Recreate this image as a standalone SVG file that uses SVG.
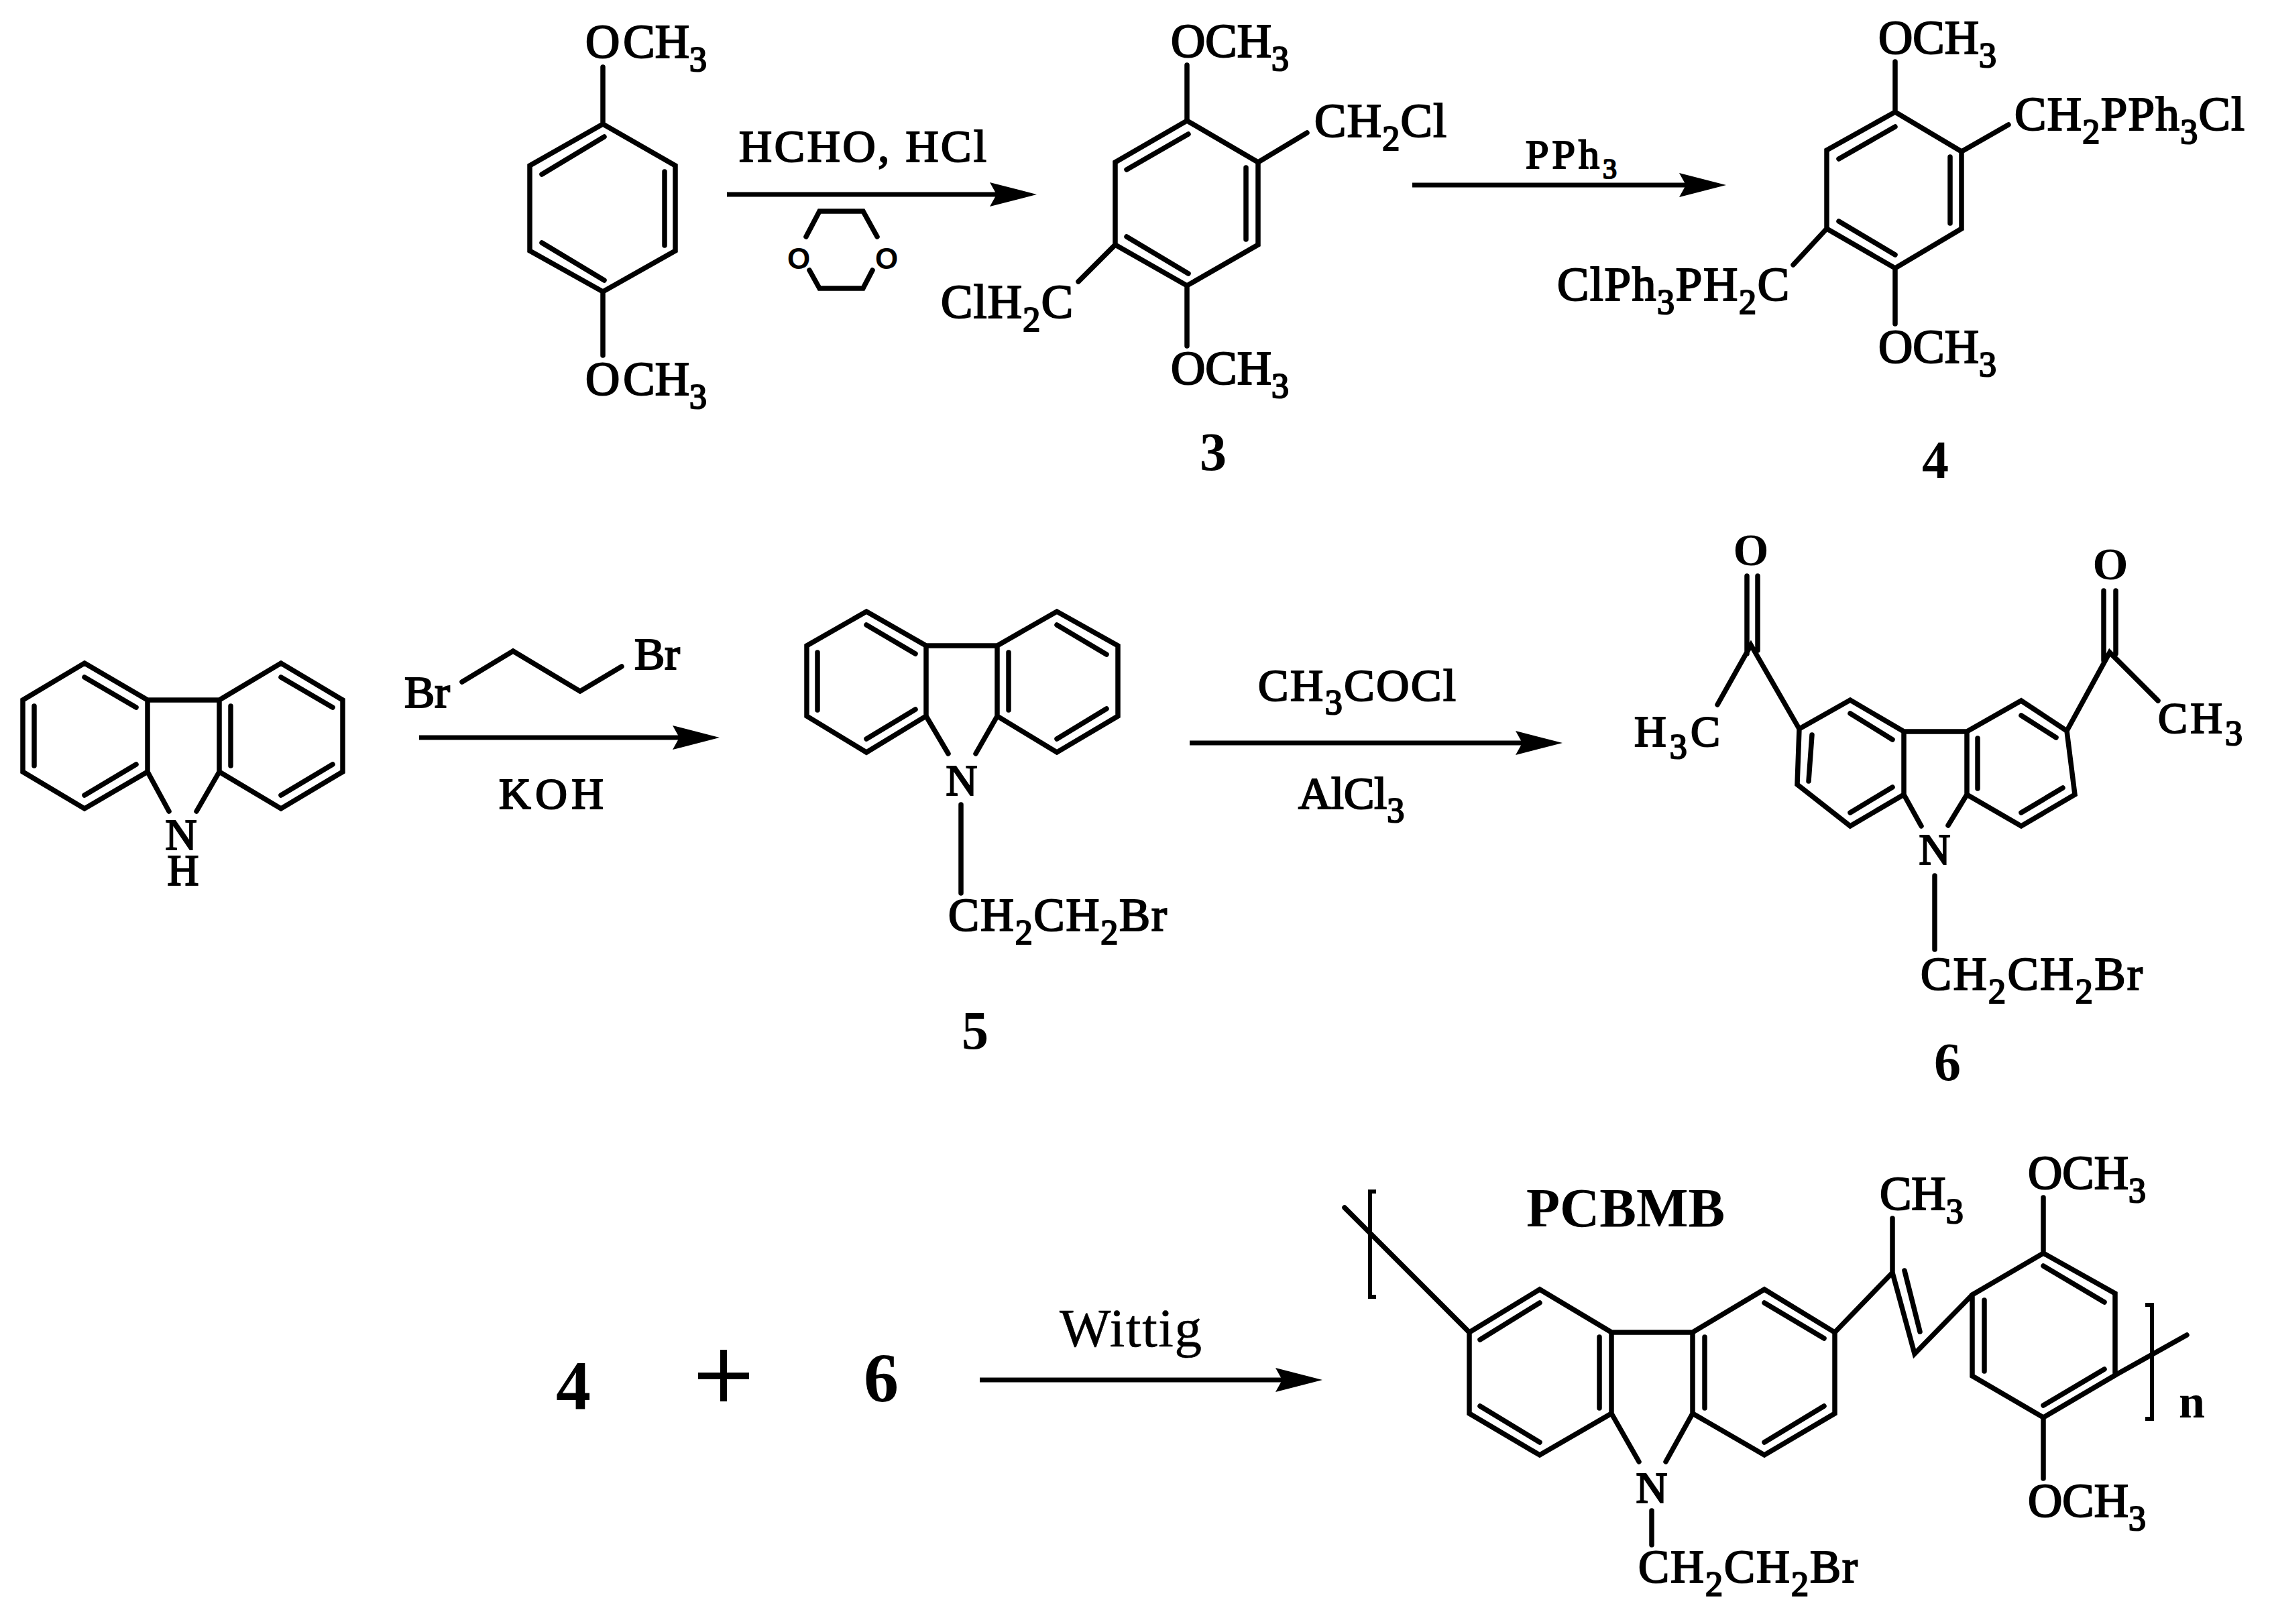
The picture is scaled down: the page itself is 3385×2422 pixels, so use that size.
<svg xmlns="http://www.w3.org/2000/svg" width="3385" height="2422" viewBox="0 0 3385 2422">
<style>
text{font-family:"Liberation Serif","Times New Roman",serif;fill:#000;font-size:71px;stroke:#000;stroke-width:2.2px}
.s{font-size:52px}
.b{font-weight:bold;stroke-width:0}
.num{font-weight:bold;font-size:80px;text-anchor:middle;stroke-width:0}
.big{font-weight:bold;font-size:104px;text-anchor:middle;stroke-width:0}
.m{text-anchor:middle}
.bond{fill:none;stroke:#000;stroke-width:7.5;stroke-linecap:round;stroke-linejoin:miter}
.arrow{fill:none;stroke:#000;stroke-width:7}
</style>
<defs>
<marker id="head" markerUnits="userSpaceOnUse" viewBox="0 0 70 36" refX="10" refY="18" markerWidth="70" markerHeight="36" orient="auto"><path d="M0 0L70 18L0 36L10 18Z" fill="#000"/></marker>
</defs>
<rect width="3385" height="2422" fill="#fff"/>
<g id="connectors">
<line class="arrow" x1="1084" y1="290" x2="1486" y2="290" marker-end="url(#head)"/>
<line class="arrow" x1="2106" y1="276" x2="2514" y2="276" marker-end="url(#head)"/>
<line class="arrow" x1="625" y1="1100" x2="1013" y2="1100" marker-end="url(#head)"/>
<line class="arrow" x1="1774" y1="1108" x2="2270" y2="1108" marker-end="url(#head)"/>
<line class="arrow" x1="1461" y1="2058" x2="1912" y2="2058" marker-end="url(#head)"/>
</g>
<g id="dimethoxybenzene">
<path class="bond" d="M899 185L1007 247V374L899 435L790 374V247ZM991 256V366M808 260L901 204M808 362L901 418M899 100V185M899 435V530"/>
<text x="873" y="86">O<tspan dx="5">CH</tspan><tspan class="s" dy="20">3</tspan></text>
<text x="873" y="589">O<tspan dx="5">CH</tspan><tspan class="s" dy="20">3</tspan></text>
</g>
<g id="reagent-1">
<text x="1102" y="241" style="font-size:68px" textLength="369">HCHO, HCl</text>
<path class="bond" d="M1202 353L1222 315H1287L1308 353M1207 403L1222 430H1287L1301 403"/>
<text class="b" x="1191" y="401" text-anchor="middle" style="font-family:'Liberation Sans',Arial,sans-serif;font-size:44px">O</text>
<text class="b" x="1322" y="401" text-anchor="middle" style="font-family:'Liberation Sans',Arial,sans-serif;font-size:44px">O</text>
</g>
<g id="compound-3">
<path class="bond" d="M1770 180L1876 242V365L1770 426L1663 365V242ZM1858 250V357M1680 253L1772 200M1680 353L1772 408M1770 97V180M1770 426V516M1663 365L1608 420M1876 242L1949 198"/>
<text x="1746" y="85">OCH<tspan class="s" dy="20">3</tspan></text>
<text x="1746" y="573">OCH<tspan class="s" dy="20">3</tspan></text>
<text x="1960" y="204" textLength="197">CH<tspan class="s" dy="20">2</tspan><tspan dy="-20">Cl</tspan></text>
<text x="1403" y="474" textLength="197">ClH<tspan class="s" dy="20">2</tspan><tspan dy="-20">C</tspan></text>
<text class="num" x="1809" y="701">3</text>
</g>
<g id="reagent-2">
<text x="2275" y="251" style="font-size:62px" textLength="136">PPh<tspan style="font-size:42px" dy="15">3</tspan></text>
</g>
<g id="compound-4">
<path class="bond" d="M2826 167L2925 226V341L2826 400L2724 341V224ZM2908 234V333M2742 237L2826 189M2742 330L2826 380M2826 92V167M2826 400V483M2925 226L2995 186M2724 341L2674 395"/>
<text x="2801" y="80">OCH<tspan class="s" dy="20">3</tspan></text>
<text x="2801" y="541">OCH<tspan class="s" dy="20">3</tspan></text>
<text x="3004" y="194" textLength="343">CH<tspan class="s" dy="20">2</tspan><tspan dy="-20">PPh</tspan><tspan class="s" dy="20">3</tspan><tspan dy="-20">Cl</tspan></text>
<text x="2322" y="448" textLength="346">ClPh<tspan class="s" dy="20">3</tspan><tspan dy="-20">PH</tspan><tspan class="s" dy="20">2</tspan><tspan dy="-20">C</tspan></text>
<text class="num" x="2886" y="713">4</text>
</g>
<g id="carbazole">
<path class="bond" d="M126 989L220 1044V1151L126 1206L34 1151V1044ZM51 1053V1142M126 1010L203 1055M126 1186L203 1140M220 1044H327M327 1044L419 989L511 1044V1151L419 1206L327 1151ZM344 1053V1142M419 1010L496 1055M419 1186L496 1140M220 1151L252 1210M327 1151L293 1210"/>
<text class="m" style="font-size:65px"><tspan x="270" y="1267">N</tspan><tspan x="273" y="1320">H</tspan></text>
</g>
<g id="reagent-3">
<path class="bond" d="M689 1017L765 971L865 1031L927 994"/>
<text x="603" y="1055" style="font-size:68px">Br</text>
<text x="946" y="998" style="font-size:68px">Br</text>
<text x="744" y="1206" style="font-size:66px" textLength="156">KOH</text>
</g>
<g id="compound-5">
<path class="bond" d="M1292 912L1381 963V1068L1292 1122L1203 1068V963ZM1219 973V1059M1292 932L1365 975M1292 1102L1365 1058M1381 963H1487M1487 963L1576 912L1667 963V1068L1576 1122L1487 1068ZM1504 973V1059M1576 932L1650 976M1576 1102L1650 1057M1381 1068L1414 1124M1487 1068L1455 1124M1433 1200V1332"/>
<text class="m" x="1434" y="1186" style="font-size:65px">N</text>
<text x="1414" y="1388" style="font-size:69px" textLength="326">CH<tspan class="s" dy="20">2</tspan><tspan dy="-20">CH</tspan><tspan class="s" dy="20">2</tspan><tspan dy="-20">Br</tspan></text>
<text class="num" x="1454" y="1564">5</text>
</g>
<g id="reagent-4">
<text x="1876" y="1045" style="font-size:68px" textLength="295">CH<tspan class="s" dy="20">3</tspan><tspan dy="-20">COCl</tspan></text>
<text x="1936" y="1206" style="font-size:68px">AlCl<tspan class="s" dy="20">3</tspan></text>
</g>
<g id="compound-6">
<path class="bond" d="M2683 1087L2759 1044L2839 1091V1185L2759 1232L2680 1170ZM2702 1096L2697 1165M2759 1064L2822 1103M2759 1212L2822 1174M2839 1091H2933M2933 1091L3014 1045L3082 1090L3094 1185L3014 1232L2933 1185ZM2949 1101V1176M3014 1067L3066 1100M3014 1212L3076 1175M2839 1185L2865 1232M2933 1185L2905 1231M2885 1306V1416"/>
<path class="bond" d="M2683 1087L2611 962L2561 1051M2605 859V975M2621 859V970M3082 1090L3146 973L3218 1045M3137 881V985M3155 881V975"/>
<text class="m b" x="2611" y="843" style="font-size:68px">O</text>
<text class="m b" x="3147" y="864" style="font-size:68px">O</text>
<text x="2437" y="1113" style="font-size:66px" textLength="128">H<tspan class="s" dy="18">3</tspan><tspan dy="-18">C</tspan></text>
<text x="3218" y="1093" style="font-size:66px" textLength="126">CH<tspan class="s" dy="18">3</tspan></text>
<text class="m" x="2885" y="1289" style="font-size:65px">N</text>
<text x="2864" y="1476" style="font-size:69px" textLength="331">CH<tspan class="s" dy="20">2</tspan><tspan dy="-20">CH</tspan><tspan class="s" dy="20">2</tspan><tspan dy="-20">Br</tspan></text>
<text class="num" x="2904" y="1611">6</text>
</g>
<g id="equation">
<text class="big" x="855" y="2101">4</text>
<path d="M1041 2052H1117M1079 2013V2090" fill="none" stroke="#000" stroke-width="10"/>
<text class="big" x="1314" y="2090">6</text>
<text x="1580" y="2008" style="font-size:81px;stroke-width:0.6px" textLength="212">Wittig</text>
</g>
<g id="pcbmb">
<path class="bond" d="M2191 1987L2296 1923L2403 1987V2108L2296 2170L2191 2108ZM2207 1998L2296 1943M2385 1994V2100M2207 2097L2296 2151M2403 1987H2524M2524 1987L2631 1923L2736 1987V2108L2631 2170L2524 2108ZM2542 1994V2100M2631 1943L2720 1996M2631 2151L2720 2097M2403 2108L2444 2180M2524 2108L2484 2180M2463 2253V2304"/>
<path class="bond" d="M2005 1801L2191 1987M2736 1987L2822 1898M2822 1817V1898L2855 2019L2941 1931M2840 1895L2863 1986M2941 1931L3047 1869L3154 1929V2051L3047 2114L2941 2052ZM2959 1939V2045M3047 1888L3138 1942M3047 2096L3138 2042M3047 1786V1869M3047 2114V2205M3154 2051L3261 1991"/>
<path fill="none" stroke="#000" stroke-width="6" d="M2052 1777H2043V1934H2052M3199 1946H3209V2116H3199"/>
<text x="3024" y="1773">OCH<tspan class="s" dy="20">3</tspan></text>
<text x="3024" y="2262">OCH<tspan class="s" dy="20">3</tspan></text>
<text x="2803" y="1804">CH<tspan class="s" dy="20">3</tspan></text>
<text class="m" x="2463" y="2241" style="font-size:65px">N</text>
<text x="2443" y="2360" style="font-size:69px" textLength="327">CH<tspan class="s" dy="20">2</tspan><tspan dy="-20">CH</tspan><tspan class="s" dy="20">2</tspan><tspan dy="-20">Br</tspan></text>
<text class="b" x="2276" y="1829" style="font-size:82px">PCBMB</text>
<text class="b" x="3249" y="2114" style="font-size:70px">n</text>
</g>
</svg>
